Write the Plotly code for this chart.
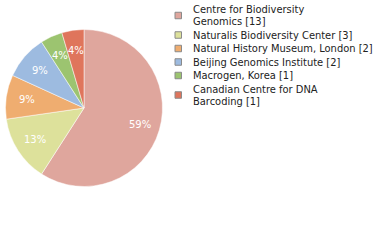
import math
import plotly.graph_objects as go

labels = ["Centre for Biodiversity<br>Genomics [13]", "Naturalis Biodiversity Center [3]",
          "Natural History Museum, London [2]", "Beijing Genomics Institute [2]",
          "Macrogen, Korea [1]", "Canadian Centre for DNA<br>Barcoding [1]"]
values = [13, 3, 2, 2, 1, 1]
colors = ["#dfa69d", "#dde19b", "#efad70", "#9dbbe0", "#9cc470", "#df755c"]

W, H = 380, 240
total = sum(values)
texts = [f"{math.floor(v * 100 / total)}%" for v in values]

# pie geometry (pixels)
cx, cy, R = 84, 108, 78.5
fig = go.Figure(go.Pie(
    labels=labels, values=values, textinfo="none",
    sort=False, direction="clockwise", rotation=0,
    marker=dict(colors=colors, line=dict(color="white", width=0.5)),
    domain=dict(x=[(cx - R) / W, (cx + R) / W], y=[(H - cy - R) / H, (H - cy + R) / H]),
    hoverinfo="none", showlegend=False,
))

annotations = []
shapes = []
# percentage labels along each slice's mid angle
cum = 0
lab_r = 58
for v, t in zip(values, texts):
    mid = (cum + v / 2) / total * 2 * math.pi
    cum += v
    px = cx + lab_r * math.sin(mid)
    py = cy - lab_r * math.cos(mid)
    annotations.append(dict(x=px / W, y=1 - py / H, xref="paper", yref="paper",
                            text=t, showarrow=False, xanchor="center", yanchor="middle",
                            font=dict(family="DejaVu Sans", size=10, color="white")))

# legend
LF = "DejaVu Sans Condensed, Liberation Sans, sans-serif"
line_h = 12
top = 3
for lab, col in zip(labels, colors):
    lines = lab.split("<br>")
    h = len(lines) * line_h + 1.5
    center = top + h / 2
    shapes.append(dict(type="rect", xref="paper", yref="paper",
                       x0=175 / W, x1=181.5 / W,
                       y0=1 - (center - 3.5) / H, y1=1 - (center + 3) / H,
                       fillcolor=col, line=dict(color="#8a8a8a", width=1)))
    for i, ln in enumerate(lines):
        ly = center + (i - (len(lines) - 1) / 2) * line_h
        annotations.append(dict(x=192 / W, y=1 - ly / H, xref="paper", yref="paper",
                                text=ln, showarrow=False, xanchor="left", yanchor="middle",
                                borderpad=0,
                                font=dict(family=LF, size=11, color="#222")))
    top += h

fig.update_layout(
    width=W, height=H, margin=dict(l=0, r=0, t=0, b=0),
    paper_bgcolor="white", plot_bgcolor="white",
    annotations=annotations, shapes=shapes, showlegend=False,
)
fig.write_html("out.html")
